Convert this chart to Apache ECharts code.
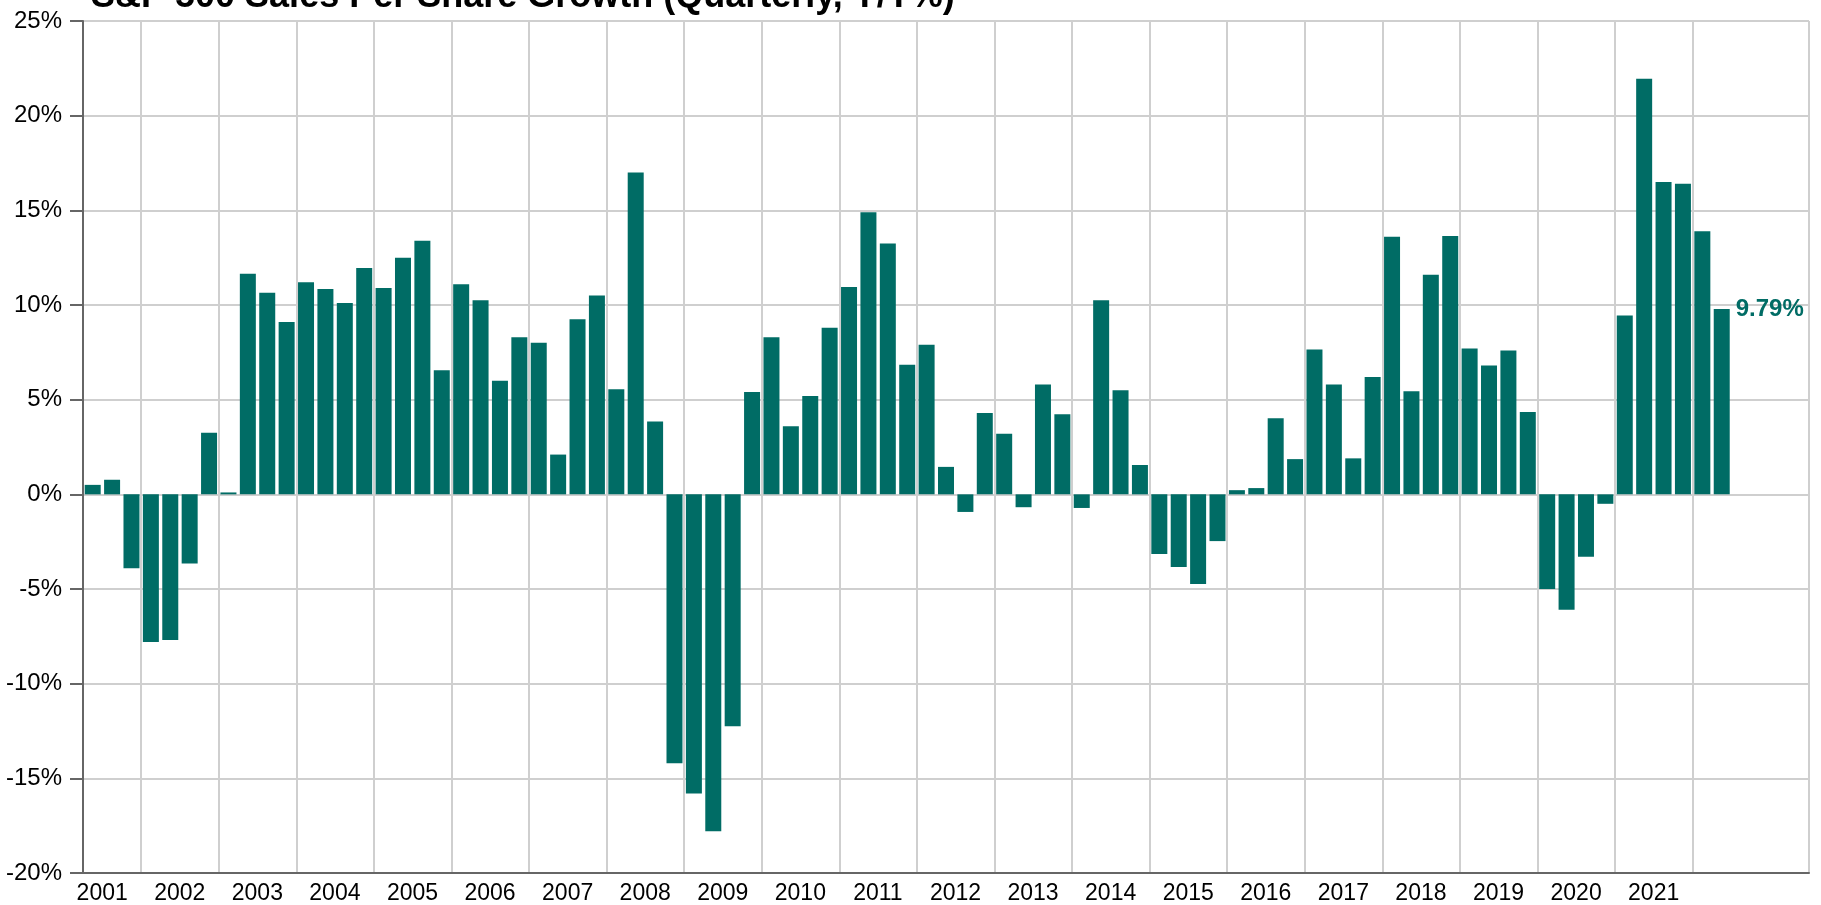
<!DOCTYPE html>
<html><head><meta charset="utf-8">
<script src="https://cdn.jsdelivr.net/npm/echarts@6/dist/echarts.min.js"></script>
<style>html,body{margin:0;padding:0;background:#fff}#c{width:1821px;height:905px}</style>
</head><body><div id="c"></div>
<script>
const titleText = 'S&P 500 Sales Per Share Growth (Quarterly, Y/Y%)';

const quarters = [
  '2001Q2','2001Q3','2001Q4',
  '2002Q1','2002Q2','2002Q3','2002Q4',
  '2003Q1','2003Q2','2003Q3','2003Q4',
  '2004Q1','2004Q2','2004Q3','2004Q4',
  '2005Q1','2005Q2','2005Q3','2005Q4',
  '2006Q1','2006Q2','2006Q3','2006Q4',
  '2007Q1','2007Q2','2007Q3','2007Q4',
  '2008Q1','2008Q2','2008Q3','2008Q4',
  '2009Q1','2009Q2','2009Q3','2009Q4',
  '2010Q1','2010Q2','2010Q3','2010Q4',
  '2011Q1','2011Q2','2011Q3','2011Q4',
  '2012Q1','2012Q2','2012Q3','2012Q4',
  '2013Q1','2013Q2','2013Q3','2013Q4',
  '2014Q1','2014Q2','2014Q3','2014Q4',
  '2015Q1','2015Q2','2015Q3','2015Q4',
  '2016Q1','2016Q2','2016Q3','2016Q4',
  '2017Q1','2017Q2','2017Q3','2017Q4',
  '2018Q1','2018Q2','2018Q3','2018Q4',
  '2019Q1','2019Q2','2019Q3','2019Q4',
  '2020Q1','2020Q2','2020Q3','2020Q4',
  '2021Q1','2021Q2','2021Q3','2021Q4',
  '2022Q1','2022Q2','2022Q3','2022Q4',
  '2023Q1','2023Q2'
];

const growth = [
  0.5, 0.77, -3.9,
  -7.8, -7.7, -3.65, 3.25,
  0.1, 11.65, 10.65, 9.1,
  11.2, 10.85, 10.1, 11.95,
  10.9, 12.5, 13.4, 6.55,
  11.1, 10.25, 6.0, 8.3,
  8.0, 2.1, 9.25, 10.5,
  5.55, 17.0, 3.85, -14.2,
  -15.8, -17.8, -12.25, 5.4,
  8.3, 3.6, 5.2, 8.8,
  10.95, 14.9, 13.25, 6.85,
  7.9, 1.45, -0.93, 4.3,
  3.2, -0.68, 5.8, 4.23,
  -0.72, 10.25, 5.5, 1.55,
  -3.15, -3.84, -4.74, -2.47,
  0.22, 0.33, 4.02, 1.86,
  7.65, 5.8, 1.9, 6.2,
  13.6, 5.45, 11.6, 13.65,
  7.7, 6.8, 7.6, 4.35,
  -5.0, -6.1, -3.3, -0.5,
  9.45, 21.95, 16.5, 16.4,
  13.9, 9.79
];

const yearLabels = ['2001','2002','2003','2004','2005','2006','2007','2008','2009','2010',
  '2011','2012','2013','2014','2015','2016','2017','2018','2019','2020','2021'];
const gridYears = ['2002','2003','2004','2005','2006','2007','2008','2009','2010','2011',
  '2012','2013','2014','2015','2016','2017','2018','2019','2020','2021','2022'];

const yMin = -20, yMax = 25, yStep = 5;

const FONT = '"Liberation Sans", Arial, sans-serif';
const BAR = '#006c65';

const seriesData = growth.map((v, i) => i === growth.length - 1
  ? { value: v, label: { show: true, position: ['100%', 0], align: 'left', verticalAlign: 'middle', offset: [6, 0],
      formatter: '{c}%', color: BAR, fontSize: 24, fontWeight: 'bold', fontFamily: FONT } }
  : v);

const chart = echarts.init(document.getElementById('c'), null, { renderer: 'canvas' });
chart.setOption({
  animation: false,
  backgroundColor: '#fff',
  title: {
    text: titleText, left: 86, top: -26, padding: 5,
    textStyle: { fontFamily: FONT, fontWeight: 'bold', fontSize: 36, color: '#000' }
  },
  grid: { left: 83, right: 12, top: 21, bottom: 32, containLabel: false },
  xAxis: {
    type: 'category', data: quarters, boundaryGap: true,
    axisLine: { show: true, onZero: false, lineStyle: { color: '#666', width: 2 } },
    axisTick: { show: false },
    splitLine: { show: true, interval: (i, v) => v.endsWith('Q1') && gridYears.includes(v.slice(0, 4)),
      lineStyle: { color: '#cfcfcf', width: 2 } },
    axisLabel: {
      interval: (i, v) => v.endsWith('Q2') && yearLabels.includes(v.slice(0, 4)),
      formatter: v => v.slice(0, 4),
      padding: [0, 0, 0, 19], margin: 9,
      fontSize: 23, color: '#000', fontFamily: FONT
    }
  },
  yAxis: {
    type: 'value', min: yMin, max: yMax, interval: yStep,
    axisLine: { show: true, lineStyle: { color: '#666', width: 2 } },
    axisTick: { show: true, length: 13, lineStyle: { color: '#666', width: 2 } },
    axisLabel: { formatter: '{value}%', margin: 21, fontSize: 24, color: '#000', fontFamily: FONT },
    splitLine: { show: true, lineStyle: { color: '#cfcfcf', width: 2 } }
  },
  series: [{
    type: 'bar', data: seriesData, barWidth: 16,
    itemStyle: { color: BAR }
  }]
});
</script>
</body></html>
